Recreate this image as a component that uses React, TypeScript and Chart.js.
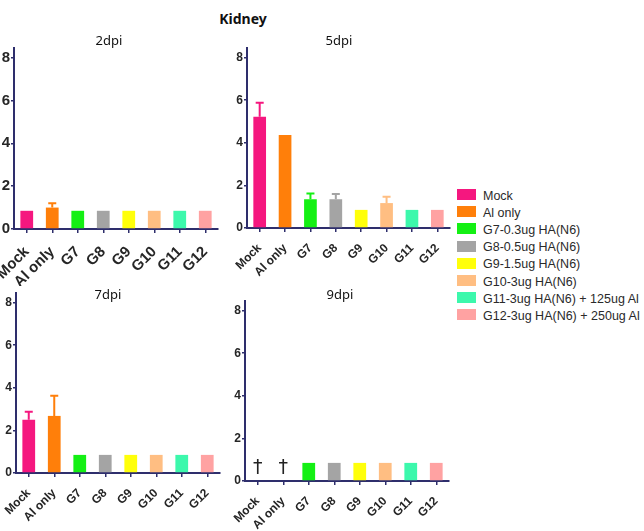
import React, { useEffect, useRef } from "react";
import { Chart, registerables } from "chart.js";

Chart.register(...registerables);

// ---------- data ----------
const chartTitle = "Kidney";
const categories = ["Mock", "Al only", "G7", "G8", "G9", "G10", "G11", "G12"];
const legendLabels = [
  "Mock",
  "Al only",
  "G7-0.3ug HA(N6)",
  "G8-0.5ug HA(N6)",
  "G9-1.5ug HA(N6)",
  "G10-3ug HA(N6)",
  "G11-3ug HA(N6) + 125ug Al",
  "G12-3ug HA(N6) + 250ug Al",
];
const barColors = [
  "#F5177F",
  "#FF7F0A",
  "#14F014",
  "#A4A4A4",
  "#FFFF0A",
  "#FFBE82",
  "#3CF8AC",
  "#FFA2A2",
];
const yTicks = [0, 2, 4, 6, 8];
const yMax = 8.45;

const dpi2Values = [0.85, 1.0, 0.85, 0.85, 0.85, 0.85, 0.85, 0.85];
const dpi2ErrTop = [null, 1.2, null, null, null, null, null, null];

const dpi5Values = [5.22, 4.37, 1.35, 1.35, 0.85, 1.17, 0.85, 0.85];
const dpi5ErrTop = [5.88, null, 1.62, 1.6, null, 1.47, null, null];

const dpi7Values = [2.5, 2.68, 0.85, 0.85, 0.85, 0.85, 0.85, 0.85];
const dpi7ErrTop = [2.88, 3.63, null, null, null, null, null, null];

const dpi9Values = [null, null, 0.85, 0.85, 0.85, 0.85, 0.85, 0.85];
const dpi9ErrTop = [null, null, null, null, null, null, null, null];
const dpi9Deceased = [true, true, false, false, false, false, false, false];
const deceasedMark = "\u2020";
const deceasedLevel = 0.62;

// ---------- style / layout ----------
const axisColor = "#2E2E6C";
const labelColor = "#262626";

type PanelLayout = {
  left: number;
  top: number;
  width: number;
  height: number;
  yAxisWidth: number;
  xAxisHeight: number;
  padTop: number;
  padRight: number;
  titleX: number;
  titleY: number;
  yFont: any;
  xFont: any;
  xPad: number;
  spacing: string;
};

const bigYFont = { family: "'Liberation Sans', Arial, sans-serif", size: 15, weight: "bold" };
const bigXFont = { family: "'Liberation Sans', Arial, sans-serif", size: 15, weight: "bold" };
const smallYFont = { family: "'Liberation Sans Narrow', 'Liberation Sans', Arial, sans-serif", size: 12, weight: "bold" };
const smallXFont = { family: "'Liberation Sans', Arial, sans-serif", size: 12, weight: "bold" };

type PanelProps = {
  title: string;
  values: (number | null)[];
  errTop: (number | null)[];
  deceased?: boolean[];
  layout: PanelLayout;
};

function Panel({ title, values, errTop, deceased, layout }: PanelProps) {
  const ref = useRef<HTMLCanvasElement | null>(null);

  useEffect(() => {
    if (!ref.current) return;
    const extras = {
      id: "errorBarsAndMarks",
      beforeDraw(chart: any) {
        (chart.ctx as any).letterSpacing = layout.spacing;
      },
      afterDatasetsDraw(chart: any) {
        const ctx = chart.ctx;
        const meta = chart.getDatasetMeta(0);
        const yScale = chart.scales.y;
        ctx.save();
        meta.data.forEach((bar: any, i: number) => {
          const e = errTop[i];
          const v = values[i];
          if (e != null && v != null) {
            const yTop = yScale.getPixelForValue(e);
            const yBar = yScale.getPixelForValue(v);
            ctx.strokeStyle = barColors[i];
            ctx.lineWidth = 2;
            ctx.beginPath();
            ctx.moveTo(bar.x, yBar);
            ctx.lineTo(bar.x, yTop);
            ctx.moveTo(bar.x - 4, yTop);
            ctx.lineTo(bar.x + 4, yTop);
            ctx.stroke();
          }
          if (deceased && deceased[i]) {
            const x = chart.scales.x.getPixelForValue(i);
            ctx.fillStyle = "#222";
            ctx.font = "19px 'DejaVu Sans', sans-serif";
            ctx.textAlign = "center";
            ctx.textBaseline = "middle";
            ctx.fillText(deceasedMark, x, yScale.getPixelForValue(deceasedLevel));
          }
        });
        ctx.restore();
      },
    };

    const chart = new Chart(ref.current, {
      type: "bar",
      data: {
        labels: categories,
        datasets: [
          {
            data: values as any,
            backgroundColor: barColors,
            borderWidth: 0,
            barPercentage: 0.5,
            categoryPercentage: 1,
          },
        ],
      },
      options: {
        responsive: false,
        maintainAspectRatio: false,
        animation: false,
        layout: { padding: { top: layout.padTop, right: layout.padRight, left: 0, bottom: 0 } },
        plugins: {
          legend: { display: false },
          tooltip: { enabled: false },
          title: { display: false },
        },
        scales: {
          x: {
            grid: {
              display: true,
              drawOnChartArea: false,
              drawTicks: true,
              tickLength: 4,
              color: axisColor,
              lineWidth: 1.5,
              offset: false,
            },
            border: { display: true, color: axisColor, width: 2 },
            ticks: {
              autoSkip: false,
              maxRotation: 45,
              minRotation: 45,
              padding: layout.xPad,
              color: labelColor,
              font: layout.xFont,
            },
            afterFit: (s: any) => {
              s.height = layout.xAxisHeight;
              s.paddingLeft = 0;
              s.paddingRight = 0;
            },
          },
          y: {
            min: 0,
            max: yMax,
            afterBuildTicks: (s: any) => {
              s.ticks = yTicks.map((v) => ({ value: v }));
            },
            grid: {
              display: true,
              drawOnChartArea: false,
              drawTicks: true,
              tickLength: 3,
              color: axisColor,
              lineWidth: 1.5,
            },
            border: { display: true, color: axisColor, width: 2 },
            ticks: {
              padding: 1,
              color: labelColor,
              font: layout.yFont,
            },
            afterFit: (s: any) => {
              s.width = layout.yAxisWidth;
              s.paddingTop = 0;
              s.paddingBottom = 0;
            },
          },
        },
      },
      plugins: [extras],
    } as any);
    return () => chart.destroy();
  }, []);

  return (
    <>
      <canvas
        ref={ref}
        width={layout.width}
        height={layout.height}
        style={{
          position: "absolute",
          left: layout.left,
          top: layout.top,
          width: layout.width,
          height: layout.height,
        }}
      />
      <div
        style={{
          position: "absolute",
          left: layout.titleX - 50,
          top: layout.titleY - 9,
          width: 100,
          height: 18,
          lineHeight: "18px",
          textAlign: "center",
          fontFamily: "'Noto Sans', 'Open Sans', sans-serif",
          fontSize: 13,
          color: "#111",
        }}
      >
        {title}
      </div>
    </>
  );
}

const layout2: PanelLayout = {
  left: 0, top: 40, width: 222, height: 246,
  yAxisWidth: 14, xAxisHeight: 57, padTop: 8, padRight: 4,
  titleX: 109, titleY: 40, yFont: bigYFont, xFont: bigXFont, xPad: 10, spacing: "0px",
};
const layout5: PanelLayout = {
  left: 225, top: 40, width: 229, height: 246,
  yAxisWidth: 22, xAxisHeight: 58, padTop: 8, padRight: 4,
  titleX: 339, titleY: 40, yFont: smallYFont, xFont: smallXFont, xPad: 9, spacing: "0px",
};
const layout7: PanelLayout = {
  left: 0, top: 285, width: 224, height: 246,
  yAxisWidth: 16, xAxisHeight: 58, padTop: 8, padRight: 4,
  titleX: 108, titleY: 294, yFont: smallYFont, xFont: smallXFont, xPad: 9, spacing: "0px",
};
const layout9: PanelLayout = {
  left: 225, top: 293, width: 228, height: 238,
  yAxisWidth: 20, xAxisHeight: 50, padTop: 8, padRight: 4,
  titleX: 340, titleY: 294, yFont: smallYFont, xFont: smallXFont, xPad: 9, spacing: "0px",
};

export default function App() {
  return (
    <div
      style={{
        position: "absolute",
        left: 0,
        top: 0,
        width: 644,
        height: 531,
        overflow: "hidden",
        background: "#fff",
      }}
    >
      <div
        style={{
          position: "absolute",
          left: 193,
          top: 9,
          width: 100,
          height: 20,
          lineHeight: "20px",
          textAlign: "center",
          fontFamily: "'Noto Sans', 'Open Sans', sans-serif",
          fontWeight: "bold",
          fontSize: 14,
          color: "#111",
        }}
      >
        {chartTitle}
      </div>
      <Panel title="2dpi" values={dpi2Values} errTop={dpi2ErrTop} layout={layout2} />
      <Panel title="5dpi" values={dpi5Values} errTop={dpi5ErrTop} layout={layout5} />
      <Panel title="7dpi" values={dpi7Values} errTop={dpi7ErrTop} layout={layout7} />
      <Panel title="9dpi" values={dpi9Values} errTop={dpi9ErrTop} deceased={dpi9Deceased} layout={layout9} />
      {legendLabels.map((lab, i) => (
        <div
          key={lab}
          style={{
            position: "absolute",
            left: 457,
            top: 195 + i * 17.1 - 8,
            height: 16,
            lineHeight: "16px",
            whiteSpace: "nowrap",
            fontFamily: "'Liberation Sans', Arial, sans-serif",
            fontSize: 12.5,
            color: "#2a2a2a",
          }}
        >
          <span
            style={{
              display: "inline-block",
              width: 19,
              height: 11,
              background: barColors[i],
              verticalAlign: "middle",
              marginRight: 7,
              position: "relative",
              top: -1,
            }}
          />
          <span style={{ verticalAlign: "middle" }}>{lab}</span>
        </div>
      ))}
    </div>
  );
}
